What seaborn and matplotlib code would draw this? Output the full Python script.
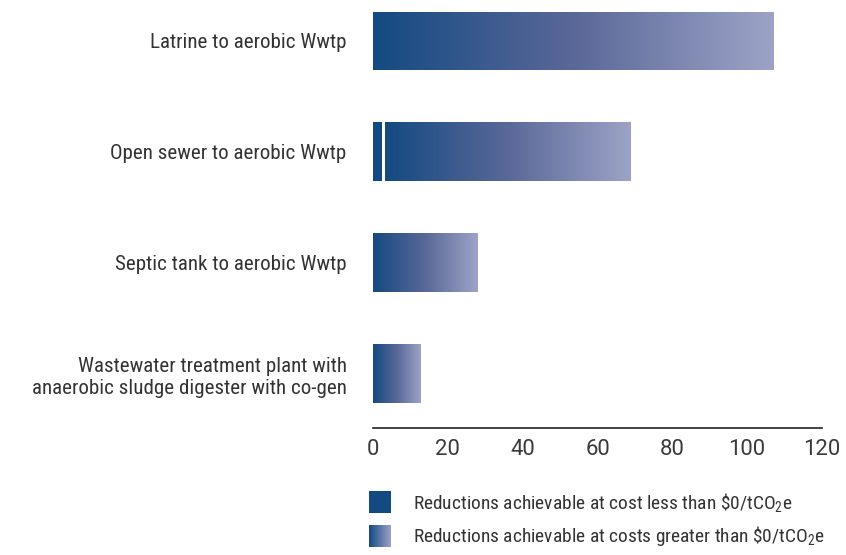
import numpy as np
import matplotlib
matplotlib.use("Agg")
import matplotlib.pyplot as plt
import seaborn as sns
from matplotlib import font_manager
from matplotlib.colors import LinearSegmentedColormap
from matplotlib.patches import Rectangle

categories = [
    "Latrine to aerobic Wwtp",
    "Open sewer to aerobic Wwtp",
    "Septic tank to aerobic Wwtp",
    "Wastewater treatment plant with\nanaerobic sludge digester with co-gen",
]
below_zero = [0, 2.5, 0, 0]          # reductions at cost < $0/tCO2e
total = [107, 69, 28, 12.6]          # total reductions (end of bar)
xticks = [0, 20, 40, 60, 80, 100, 120]
legend_labels = [
    r"Reductions achievable at cost less than \$0/tCO$_2$e",
    r"Reductions achievable at costs greater than \$0/tCO$_2$e",
]

sns.set_style("white")

# choose a narrow font if one is installed
names = {f.name for f in font_manager.fontManager.ttflist}
stretch = "normal"
chosen = None
for cand in ["Liberation Sans Narrow", "Roboto Condensed", "Open Sans Condensed",
             "Arial Narrow", "Noto Sans Condensed"]:
    if cand in names:
        chosen = cand
        break
if chosen is None:
    cond = [f for f in font_manager.fontManager.ttflist
            if f.name == "DejaVu Sans" and "ondensed" in str(f.fname)]
    if cond:
        chosen = "DejaVu Sans"
        stretch = "condensed"
    else:
        chosen = "Liberation Sans"
FONT = [chosen, "DejaVu Sans"]
plt.rcParams["font.family"] = FONT
plt.rcParams["font.stretch"] = stretch
plt.rcParams["mathtext.fontset"] = "custom"
plt.rcParams["mathtext.rm"] = chosen
plt.rcParams["mathtext.it"] = chosen
TICKFONT = ["Roboto", "DejaVu Sans"] if "Roboto" in names else ["DejaVu Sans"]

DARK = "#144a82"
TXT = "#333333"
cmap = LinearSegmentedColormap.from_list("g", ["#144a82", "#5a6898", "#9ca3c6"])
grad = np.linspace(0, 1, 256).reshape(1, -1)

fig = plt.figure(figsize=(8.46, 5.55), dpi=100)
ax = fig.add_axes([373 / 846, 1 - 428 / 555, 449 / 846, 428 / 555])

# gradient (cost > 0) bars
sns.barplot(x=total, y=categories, orient="h", ax=ax, width=0.53,
            color=DARK, saturation=1, linewidth=0)
grad_patches = list(ax.patches)
for i, p in enumerate(grad_patches):
    start = below_zero[i] + (0.8 if below_zero[i] > 0 else 0)
    p.set_x(start)
    p.set_width(total[i] - start)
    x0, y0, w, h = p.get_x(), p.get_y(), p.get_width(), p.get_height()
    im = ax.imshow(grad, cmap=cmap, aspect="auto",
                   extent=[x0, x0 + w, y0 + h, y0], zorder=2)
    im.set_clip_path(p)
    p.set_facecolor("none")
    p.set_edgecolor("none")

# solid (cost < 0) bars
n_before = len(ax.patches)
sns.barplot(x=below_zero, y=categories, orient="h", ax=ax, width=0.53,
            color=DARK, saturation=1, linewidth=0)
for p in ax.patches[n_before:]:
    p.set_zorder(3)
    if p.get_width() == 0:
        p.set_visible(False)

ax.set_xlim(0, 120)
ax.set_ylim(3.49, -0.369)
ax.set_xticks(xticks)
ax.set_xticklabels([str(t) for t in xticks], family=TICKFONT, fontweight="normal")
ax.set_xlabel("")
ax.set_ylabel("")
for s in ["top", "right", "left"]:
    ax.spines[s].set_visible(False)
ax.spines["bottom"].set_color("#222222")
ax.spines["bottom"].set_linewidth(1.2)
ax.spines["bottom"].set_bounds(0, 120)
ax.tick_params(axis="x", length=0, pad=8, labelcolor="#3a3a3a")
ax.tick_params(axis="y", length=0, pad=19, labelcolor=TXT)
for lab in ax.get_yticklabels():
    lab.set_horizontalalignment("right")
    lab.set_multialignment("right")

# legend (manual)
W, H = 846, 555
def fx(px):
    return px / W
def fy(py):
    return 1 - py / H

sq = 22
fig.add_artist(Rectangle((fx(369), fy(513)), sq / W, sq / H,
                         transform=fig.transFigure, facecolor=DARK, edgecolor="none"))
lax = fig.add_axes([fx(369), fy(547), sq / W, sq / H])
lax.imshow(grad, cmap=LinearSegmentedColormap.from_list("l", ["#144a82", "#9ca3c6"]),
           aspect="auto", extent=[0, 1, 0, 1])
lax.set_axis_off()
leg_texts = [
    fig.text(fx(413), fy(502), legend_labels[0], ha="left", va="center", color=TXT),
    fig.text(fx(413), fy(536), legend_labels[1], ha="left", va="center", color=TXT),
]

# size fitting: match text widths measured on the reference
renderer = fig.canvas.get_renderer()
def fit(texts, ref_text, target_px):
    ref_text.set_fontsize(10)
    w = ref_text.get_window_extent(renderer).width
    size = 10 * target_px / w
    for t in texts:
        t.set_fontsize(size)

ylabs = ax.get_yticklabels()
fit(ylabs, ylabs[0], 195)
xlabs = ax.get_xticklabels()
fit(xlabs, xlabs[5], 37)
fit(leg_texts, leg_texts[0], 381)

fig.savefig("out.png", dpi=100)
